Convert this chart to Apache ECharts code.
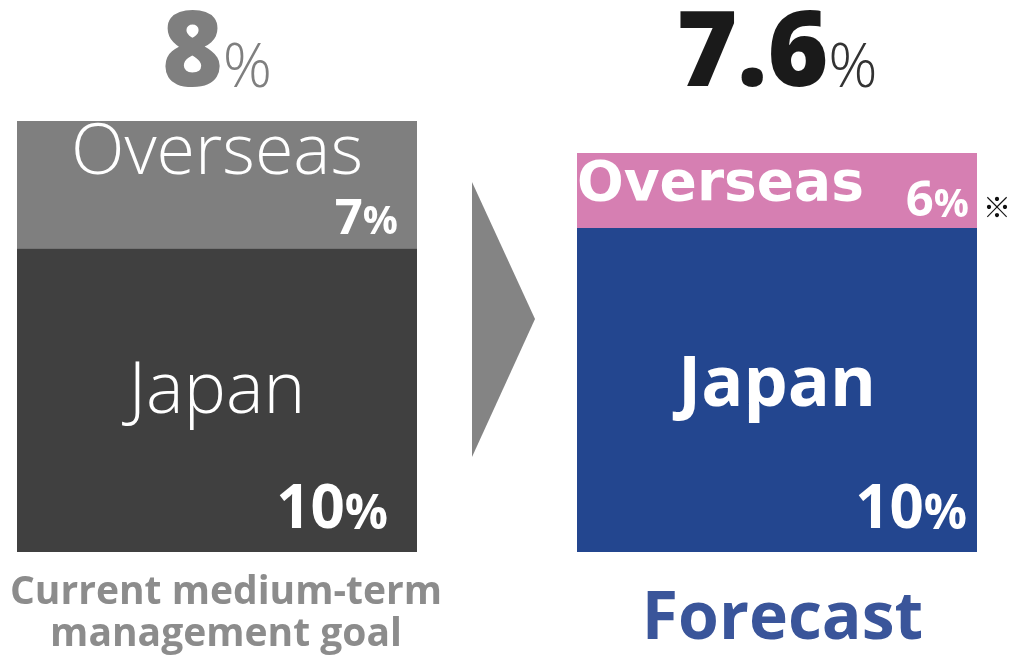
<!DOCTYPE html>
<html>
<head>
<meta charset="utf-8">
<title>Growth rate: goal vs forecast</title>
<script src="https://cdn.jsdelivr.net/npm/echarts@6/dist/echarts.min.js"></script>
<style>
  html, body { margin: 0; padding: 0; background: #fff; }
  #chart { width: 1015px; height: 660px; }
</style>
</head>
<body>
<div id="chart"></div>
<script>
// chart data
const categories = ['Current medium-term\nmanagement goal', 'Forecast']
const japanShare = [70.5, 75.2]      // relative block size
const overseasShare = [29.5, 17.4]
const japanRate = [10, 10]            // %
const overseasRate = [7, 6]
const totalRate = [8, 7.6]

const FONT = '"Open Sans", "Noto Sans", sans-serif'
const K = 0.31 // baseline sits about this far (in em) below the text middle

// number + smaller "%" kept on the same baseline
// default: number centred in the line, '%' pushed down from the bottom
// vAlign 'top': both hung from the line top, number at top + h/2
function rateStyles(size, lh, h, vAlign) {
  const small = Math.round(size * 0.8)
  const shift = 2 * K * (size - small)
  const num = { fontFamily: FONT, fontWeight: 'bold', fontSize: size, lineHeight: lh, color: '#fff', align: 'right' }
  const pct = { fontFamily: FONT, fontWeight: 'bold', fontSize: small, lineHeight: lh, color: '#fff', align: 'right' }
  if (vAlign === 'top') {
    num.verticalAlign = 'top'; num.height = h
    pct.verticalAlign = 'top'; pct.height = h + shift
  } else {
    pct.verticalAlign = 'bottom'; pct.height = lh - shift
  }
  return { v: num, p: pct }
}

const japanLabels = [
  {
    show: true, position: 'insideTop', distance: 95, width: 342,
    formatter: p => '{n|Japan}\n{v|' + japanRate[p.dataIndex] + '}{p|%}',
    rich: Object.assign({
      n: { fontFamily: FONT, fontWeight: 300, fontSize: 71, lineHeight: 100, color: '#fff', align: 'center' }
    }, rateStyles(60, 136))
  },
  {
    show: true, position: 'insideTop', distance: 108, width: 380,
    formatter: p => '{n|Japan}\n{v|' + japanRate[p.dataIndex] + '}{p|%}',
    rich: Object.assign({
      n: { fontFamily: FONT, fontWeight: 'bold', fontSize: 70, lineHeight: 100, color: '#fff', align: 'center' }
    }, rateStyles(60, 151))
  }
]

const overseasLabels = [
  {
    show: true, position: 'insideTop', distance: 0, width: 362,
    formatter: p => '{n|Overseas}\n{v|' + overseasRate[p.dataIndex] + '}{p|%}',
    rich: Object.assign({
      n: { fontFamily: FONT, fontWeight: 300, fontSize: 70, lineHeight: 67, color: '#fff', align: 'center' }
    }, rateStyles(49, 64))
  },
  {
    show: true, position: 'insideTop', distance: 5, width: 392, offset: [-4, 0],
    formatter: p => '{n|Overseas}{v|' + overseasRate[p.dataIndex] + '}{p|%}',
    rich: Object.assign({
      n: { fontFamily: '"DejaVu Sans", sans-serif', fontWeight: 'bold', fontSize: 55, lineHeight: 60, color: '#fff', align: 'left', verticalAlign: 'top' }
    }, rateStyles(49, 60, 89, 'top'))
  }
]

const totalColors = [['#7f7f7f', '#7f7f7f'], ['#1a1a1a', '#333333']]
const totalDistance = [25, 57]

const chart = echarts.init(document.getElementById('chart'))

chart.setOption({
  animation: false,
  grid: { left: -63, right: -42, top: 121, bottom: 108, outerBoundsMode: 'none', containLabel: false },
  xAxis: {
    type: 'category',
    data: categories,
    axisLine: { show: false },
    axisTick: { show: false },
    axisLabel: {
      interval: 0,
      margin: 20,
      formatter: (v, i) => (i === 0 ? '{a|' : '{b|') + v + '}',
      rich: {
        a: { fontFamily: FONT, fontWeight: 'bold', fontSize: 39, lineHeight: 42, color: '#8c8c8c', padding: [0, 0, 0, 18] },
        b: { fontFamily: FONT, fontWeight: 'bold', fontSize: 66, lineHeight: 97, color: '#3a559a', padding: [0, 0, 0, 11] }
      }
    }
  },
  yAxis: { type: 'value', min: 0, max: 100, show: false },
  series: [
    {
      name: 'Japan',
      type: 'bar',
      stack: 'all',
      barWidth: 400,
      data: japanShare.map((v, i) => ({
        value: v,
        itemStyle: { color: ['#404040', '#23468f'][i] },
        label: japanLabels[i]
      }))
    },
    {
      name: 'Overseas',
      type: 'bar',
      stack: 'all',
      barWidth: 400,
      data: overseasShare.map((v, i) => ({
        value: v,
        itemStyle: { color: ['#7f7f7f', '#d67fb2'][i] },
        label: overseasLabels[i]
      }))
    },
    {
      name: 'Total',
      type: 'bar',
      stack: 'all',
      barWidth: 400,
      data: totalRate.map((r, i) => ({
        value: 0,
        itemStyle: { color: 'transparent' },
        label: {
          show: true,
          position: 'top',
          distance: totalDistance[i],
          formatter: '{v|' + r + '}{p|%}',
          rich: {
            v: { fontFamily: FONT, fontWeight: 800, fontSize: 104, lineHeight: 80, color: totalColors[i][0] },
            p: { fontFamily: FONT, fontWeight: 300, fontSize: 61, lineHeight: 80, height: 80 - 2 * K * (104 - 61), color: totalColors[i][1], verticalAlign: 'bottom' }
          }
        }
      }))
    }
  ],
  graphic: [
    {
      type: 'polygon',
      shape: { points: [[472, 182], [535, 319], [472, 457]] },
      style: { fill: '#848484' }
    },
    {
      type: 'text',
      left: 983,
      top: 193,
      style: { text: '※', fill: '#111', font: '28px "Noto Sans CJK JP", sans-serif' }
    }
  ]
})
</script>
</body>
</html>
